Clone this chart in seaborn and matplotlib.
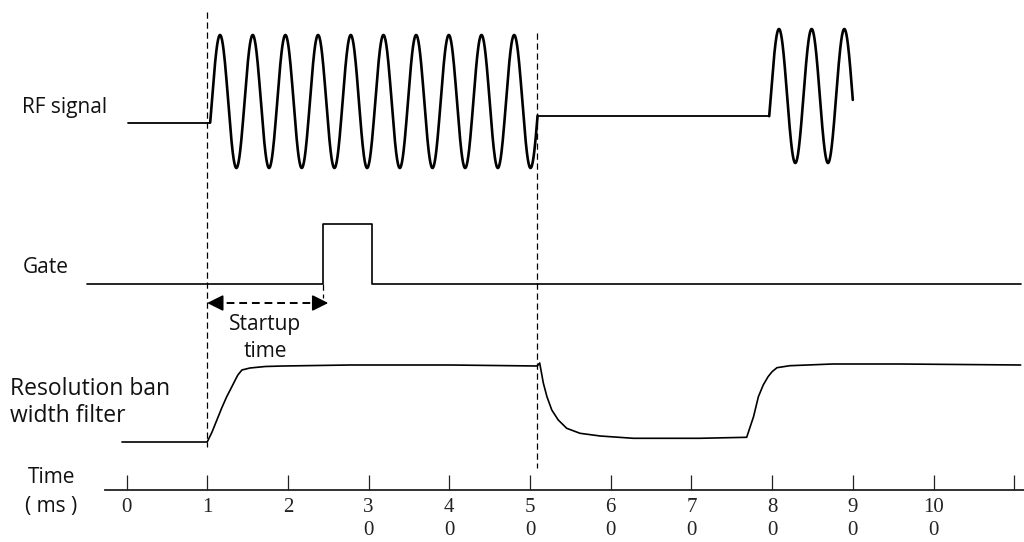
import numpy as np
import matplotlib
matplotlib.use("Agg")
import matplotlib.pyplot as plt
import seaborn as sns

# ---------------- data (time in ms, level = drawing units from the top) ----------------
tick_values = list(range(12))
tick_labels = ["0", "1", "2", "3\n0", "4\n0", "5\n0", "6\n0", "7\n0", "8\n0", "9\n0", "10\n0", ""]

# RF signal: idle (flat) segments and sine bursts
rf_idle_segments = [(0.02, 1.037, 123.0), (5.094, 7.964, 116.0)]          # start, end, level
rf_bursts = [(1.037, 5.094, 1.159, 101.5, 66.5),                           # start, end, peak time, centre, amplitude
             (7.964, 9.0, 8.085, 96.0, 67.0)]
rf_period = 0.405

# Gate
gate_t = [-0.489, 2.435, 2.435, 3.038, 3.038, 11.08]
gate_y = [284, 284, 224, 224, 284, 284]

# Resolution bandwidth filter response
rbw_t = [-0.056, 1.0, 1.06, 1.12, 1.18, 1.24, 1.31, 1.36, 1.38, 1.43, 1.53, 1.72, 1.94,
         2.77, 4.01, 5.09, 5.12, 5.165, 5.21, 5.27, 5.35, 5.455, 5.62, 5.87, 6.28, 7.10,
         7.685, 7.77, 7.83, 7.89, 7.95, 8.00, 8.06, 8.22, 8.75, 9.58, 11.08]
rbw_y = [442, 442, 432, 420, 408, 397, 386, 378, 375, 370, 368, 366.5, 366,
         365, 365, 366, 363, 383, 396.7, 410, 420, 428.3, 433.3, 436, 438.3, 438.3,
         437.3, 416.7, 396.7, 385, 376.7, 371.7, 367.7, 365.7, 364, 364, 365]

# Dashed reference markers: time, top level, bottom level
markers = [(1.0, 12, 447), (5.085, 33, 468), (2.435, 284, 298)]

# Startup-time arrow: from, to, level
startup = (1.0, 2.50, 303)

# Labels: text, time position, baseline level, font size
channel_labels = [("RF signal", -1.295, 113, 15), ("Gate", -1.283, 273, 15),
                  ("Resolution ban", -1.444, 395, 16.5), ("width filter", -1.444, 422, 16.5)]
axis_label_lines = [("Time", -0.93, 483), ("( ms )", -0.935, 512)]
startup_label = [("Startup", 1.716, 330), ("time", 1.716, 357)]

axis_line_y = 490
axis_start = -0.266

# ---------------- figure ----------------
sns.set_theme(style="white")
plt.rcParams["font.family"] = ["Open Sans", "DejaVu Sans"]

fig = plt.figure(figsize=(10.24, 5.42), dpi=100)
ax = fig.add_axes([0, 0, 1, 1])
ax.set_xlim(-126.5 / 80.7, (1024 - 126.5) / 80.7)
ax.set_ylim(542, 0)


def line(t, y, lw, ls="-"):
    sns.lineplot(x=np.asarray(t, float), y=np.asarray(y, float), ax=ax, color="black",
                 lw=lw, ls=ls, sort=False, estimator=None, legend=False)


# RF signal trace: idle parts thin, bursts thicker
for (a, b, lvl) in rf_idle_segments:
    line([a, b], [lvl, lvl], 1.3)
for (a, b, tp, c, amp) in rf_bursts:
    tt = np.linspace(a, b, 800)
    line(tt, c - amp * np.cos(2 * np.pi * (tt - tp) / rf_period), 1.9)

# Gate trace
line(gate_t, gate_y, 1.2)

# RBW trace
line(rbw_t, rbw_y, 1.2)

# dashed markers
for (t, y0, y1) in markers:
    line([t, t], [y0, y1], 0.9, ls=(0, (5, 3)))

# startup arrow
a, b, lvl = startup
line([a + 0.08, b - 0.08], [lvl, lvl], 1.4, ls=(0, (4, 2.5)))
for tip, tail in [(a, a + 0.1), (b, b - 0.1)]:
    ax.annotate("", xy=(tip, lvl), xytext=(tail, lvl),
                arrowprops=dict(arrowstyle="-|>,head_length=0.7,head_width=0.35",
                                color="black", lw=1.2, shrinkA=0, shrinkB=0,
                                mutation_scale=14))

# labels
for s, x, y, fs in channel_labels:
    ax.text(x, y, s, ha="left", va="baseline", fontsize=fs, color="#111111")
for s, x, y in axis_label_lines + startup_label:
    ax.text(x, y, s, ha="center", va="baseline", fontsize=15, color="#111111")

# time axis
for side in ["top", "left", "right"]:
    ax.spines[side].set_visible(False)
ax.spines["bottom"].set_position(("data", axis_line_y))
ax.spines["bottom"].set_bounds(axis_start, 11.2)
ax.spines["bottom"].set_linewidth(1.3)
ax.spines["bottom"].set_color("#222222")
ax.set_yticks([])
ax.set_xticks(tick_values, tick_labels)
ax.tick_params(axis="x", direction="in", length=10.8, width=0.9, pad=5.5,
               labelsize=15, colors="#222222", bottom=True)
for lab in ax.get_xticklabels():
    lab.set_family("Liberation Serif")
    lab.set_linespacing(1.33)
ax.grid(False)
ax.set_xlabel("")
ax.set_ylabel("")

fig.savefig("out.png", dpi=100)
